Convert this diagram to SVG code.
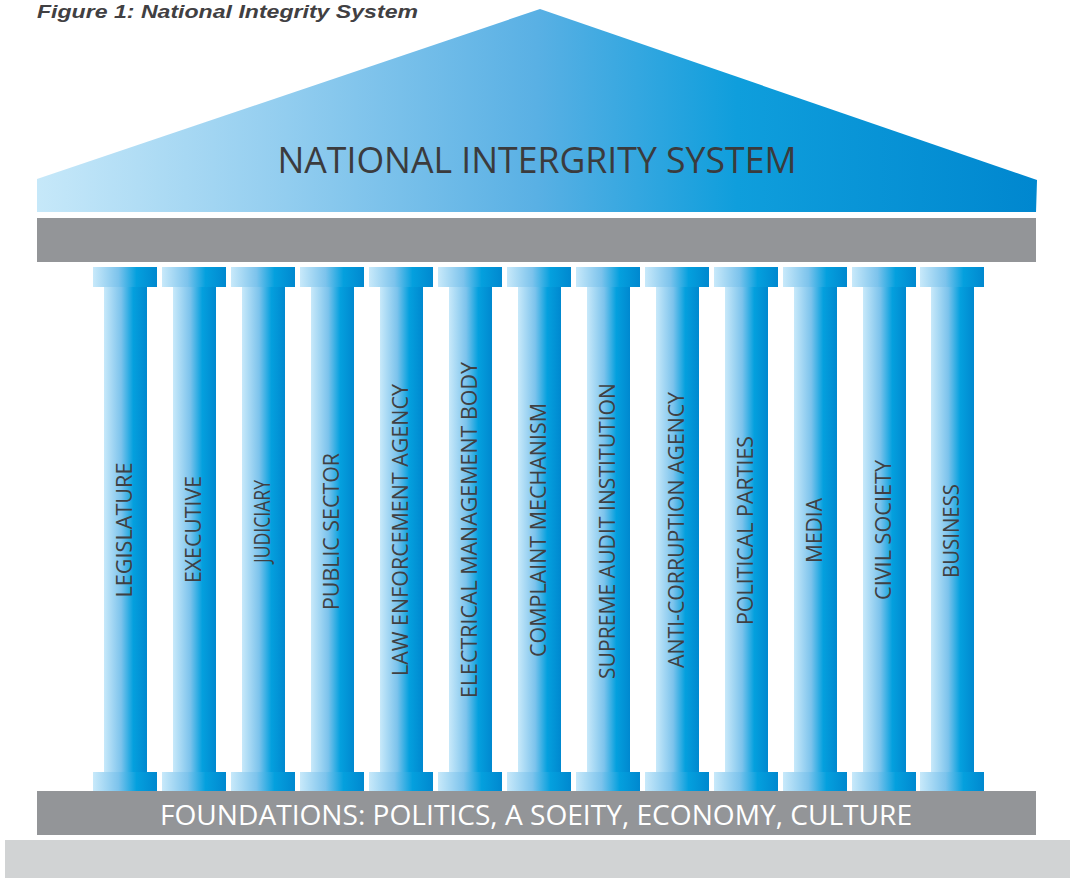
<svg xmlns="http://www.w3.org/2000/svg" width="1070" height="878" viewBox="0 0 1070 878">
  <defs>
    <linearGradient id="roofGrad" x1="37" y1="0" x2="1037" y2="0" gradientUnits="userSpaceOnUse">
      <stop offset="0" stop-color="#c6e8f9"/>
      <stop offset="0.25" stop-color="#92cdef"/>
      <stop offset="0.5" stop-color="#59b0e4"/>
      <stop offset="0.7" stop-color="#0f9edc"/>
      <stop offset="1" stop-color="#0087cf"/>
    </linearGradient>
    <linearGradient id="pillarGrad" x1="0" y1="0" x2="1" y2="0">
      <stop offset="0" stop-color="#c8e9fa"/>
      <stop offset="0.4" stop-color="#7cc3ec"/>
      <stop offset="0.68" stop-color="#04a0de"/>
      <stop offset="1" stop-color="#0088cf"/>
    </linearGradient>
  </defs>
  <style>
    .caption { font-family: "Liberation Sans", "Open Sans", sans-serif; font-weight: 700; font-style: italic; font-size: 18px; fill: #414042; }
    .roof-label { font-family: "Open Sans", "Liberation Sans", sans-serif; font-size: 36px; fill: #3b3b3d; }
    .beam { fill: #939598; }
    .ground { fill: #d1d3d4; }
    .piece { fill: url(#pillarGrad); }
    .pillar-label { font-family: "Open Sans", "Liberation Sans", sans-serif; font-size: 22px; fill: #3f4042; text-anchor: middle; }
    .base-label { font-family: "Open Sans", "Liberation Sans", sans-serif; font-size: 28px; fill: #ffffff; text-anchor: middle; }
  </style>

  <rect width="1070" height="878" fill="#ffffff"/>

  <text class="caption" x="37" y="17.5" textLength="381" lengthAdjust="spacingAndGlyphs">Figure 1: National Integrity System</text>

  <!-- roof -->
  <g id="roof">
    <path d="M37,212 L37,179 L540,9 L1037,180 L1036,212 Z" fill="url(#roofGrad)"/>
    <text class="roof-label" x="537" y="173" text-anchor="middle" textLength="519" lengthAdjust="spacingAndGlyphs">NATIONAL INTERGRITY SYSTEM</text>
  </g>

  <!-- beam under the roof -->
  <rect id="entablature" class="beam" x="37" y="218" width="999" height="44"/>

  <!-- pillars: capital, shaft, base -->
  <g id="pillar-legislature" transform="translate(93,0)">
    <rect class="piece" x="0" y="267" width="64" height="20"/>
    <rect class="piece" x="11" y="287" width="43" height="485"/>
    <rect class="piece" x="0" y="772" width="64" height="19"/>
    <text class="pillar-label" transform="translate(39,530) rotate(-90)" textLength="135" lengthAdjust="spacingAndGlyphs">LEGISLATURE</text>
  </g>
  <g id="pillar-executive" transform="translate(162,0)">
    <rect class="piece" x="0" y="267" width="64" height="20"/>
    <rect class="piece" x="11" y="287" width="43" height="485"/>
    <rect class="piece" x="0" y="772" width="64" height="19"/>
    <text class="pillar-label" transform="translate(39,529.5) rotate(-90)" textLength="107" lengthAdjust="spacingAndGlyphs">EXECUTIVE</text>
  </g>
  <g id="pillar-judiciary" transform="translate(231,0)">
    <rect class="piece" x="0" y="267" width="64" height="20"/>
    <rect class="piece" x="11" y="287" width="43" height="485"/>
    <rect class="piece" x="0" y="772" width="64" height="19"/>
    <text class="pillar-label" transform="translate(39,521.5) rotate(-90)" textLength="83" lengthAdjust="spacingAndGlyphs">JUDICIARY</text>
  </g>
  <g id="pillar-public-sector" transform="translate(300,0)">
    <rect class="piece" x="0" y="267" width="64" height="20"/>
    <rect class="piece" x="11" y="287" width="43" height="485"/>
    <rect class="piece" x="0" y="772" width="64" height="19"/>
    <text class="pillar-label" transform="translate(39,531.5) rotate(-90)" textLength="157" lengthAdjust="spacingAndGlyphs">PUBLIC SECTOR</text>
  </g>
  <g id="pillar-law-enforcement" transform="translate(369,0)">
    <rect class="piece" x="0" y="267" width="64" height="20"/>
    <rect class="piece" x="11" y="287" width="43" height="485"/>
    <rect class="piece" x="0" y="772" width="64" height="19"/>
    <text class="pillar-label" transform="translate(39,530) rotate(-90)" textLength="292" lengthAdjust="spacingAndGlyphs">LAW ENFORCEMENT  AGENCY</text>
  </g>
  <g id="pillar-electoral-body" transform="translate(438,0)">
    <rect class="piece" x="0" y="267" width="64" height="20"/>
    <rect class="piece" x="11" y="287" width="43" height="485"/>
    <rect class="piece" x="0" y="772" width="64" height="19"/>
    <text class="pillar-label" transform="translate(39,530) rotate(-90)" textLength="336" lengthAdjust="spacingAndGlyphs">ELECTRICAL MANAGEMENT BODY</text>
  </g>
  <g id="pillar-complaint" transform="translate(507,0)">
    <rect class="piece" x="0" y="267" width="64" height="20"/>
    <rect class="piece" x="11" y="287" width="43" height="485"/>
    <rect class="piece" x="0" y="772" width="64" height="19"/>
    <text class="pillar-label" transform="translate(39,530) rotate(-90)" textLength="254" lengthAdjust="spacingAndGlyphs">COMPLAINT MECHANISM</text>
  </g>
  <g id="pillar-audit" transform="translate(576,0)">
    <rect class="piece" x="0" y="267" width="64" height="20"/>
    <rect class="piece" x="11" y="287" width="43" height="485"/>
    <rect class="piece" x="0" y="772" width="64" height="19"/>
    <text class="pillar-label" transform="translate(39,531) rotate(-90)" textLength="296" lengthAdjust="spacingAndGlyphs">SUPREME AUDIT INSTITUTION</text>
  </g>
  <g id="pillar-anti-corruption" transform="translate(645,0)">
    <rect class="piece" x="0" y="267" width="64" height="20"/>
    <rect class="piece" x="11" y="287" width="43" height="485"/>
    <rect class="piece" x="0" y="772" width="64" height="19"/>
    <text class="pillar-label" transform="translate(39,530) rotate(-90)" textLength="276" lengthAdjust="spacingAndGlyphs">ANTI-CORRUPTION AGENCY</text>
  </g>
  <g id="pillar-political-parties" transform="translate(714,0)">
    <rect class="piece" x="0" y="267" width="64" height="20"/>
    <rect class="piece" x="11" y="287" width="43" height="485"/>
    <rect class="piece" x="0" y="772" width="64" height="19"/>
    <text class="pillar-label" transform="translate(39,530.5) rotate(-90)" textLength="189" lengthAdjust="spacingAndGlyphs">POLITICAL PARTIES</text>
  </g>
  <g id="pillar-media" transform="translate(783,0)">
    <rect class="piece" x="0" y="267" width="64" height="20"/>
    <rect class="piece" x="11" y="287" width="43" height="485"/>
    <rect class="piece" x="0" y="772" width="64" height="19"/>
    <text class="pillar-label" transform="translate(39,530.5) rotate(-90)" textLength="65" lengthAdjust="spacingAndGlyphs">MEDIA</text>
  </g>
  <g id="pillar-civil-society" transform="translate(852,0)">
    <rect class="piece" x="0" y="267" width="64" height="20"/>
    <rect class="piece" x="11" y="287" width="43" height="485"/>
    <rect class="piece" x="0" y="772" width="64" height="19"/>
    <text class="pillar-label" transform="translate(39,530) rotate(-90)" textLength="140" lengthAdjust="spacingAndGlyphs">CIVIL SOCIETY</text>
  </g>
  <g id="pillar-business" transform="translate(920,0)">
    <rect class="piece" x="0" y="267" width="64" height="20"/>
    <rect class="piece" x="11" y="287" width="43" height="485"/>
    <rect class="piece" x="0" y="772" width="64" height="19"/>
    <text class="pillar-label" transform="translate(39,531) rotate(-90)" textLength="94" lengthAdjust="spacingAndGlyphs">BUSINESS</text>
  </g>

  <!-- foundation slab -->
  <g id="foundations">
    <rect class="beam" x="37" y="791" width="999" height="44"/>
    <text class="base-label" x="536" y="825" textLength="752" lengthAdjust="spacingAndGlyphs">FOUNDATIONS: POLITICS, A SOEITY, ECONOMY, CULTURE</text>
  </g>

  <rect id="ground" class="ground" x="5" y="840" width="1065" height="38"/>
</svg>
